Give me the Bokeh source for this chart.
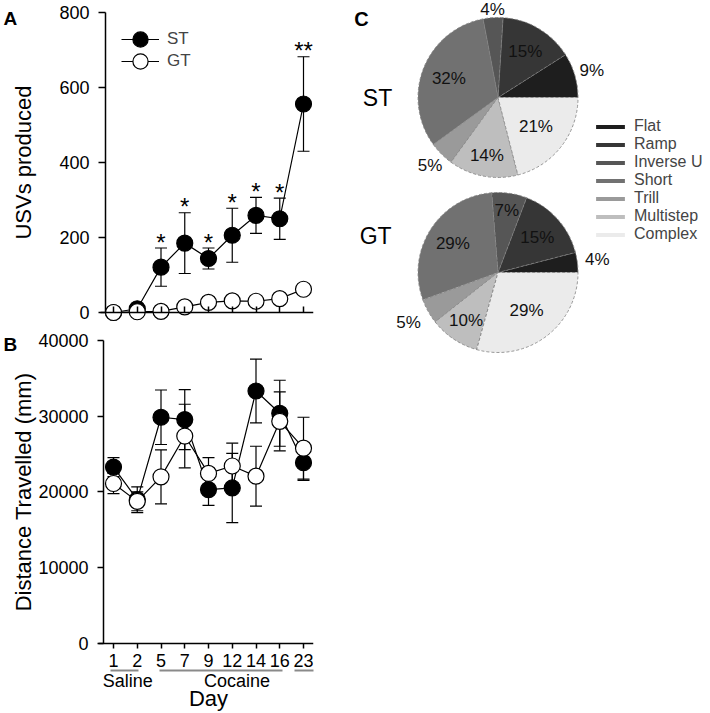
import math
from bokeh.plotting import figure
from bokeh.models import (Range1d, FixedTicker, LinearAxis, Legend, LegendItem,
                          ColumnDataSource)
from bokeh.layouts import row, column
from bokeh.embed import file_html
from bokeh.resources import INLINE
from bokeh.core.properties import value

# ---------------- data ----------------
days = ["1", "2", "5", "7", "9", "12", "14", "16", "23"]
usv_st = [0, 10, 121, 185, 144, 206, 259, 250, 556]
usv_st_err = [1, 5, 51, 81, 28, 72, 48, 55, 126]
usv_gt = [0, 2, 3, 15, 27, 31, 30, 37, 62]
usv_gt_err = [1, 1, 2, 4, 6, 5, 6, 6, 8]
usv_sig = ["", "", "*", "*", "*", "*", "*", "*", "**"]
usv_ticks = [0, 200, 400, 600, 800]

dist_st = [23290, 18980, 29870, 29560, 20320, 20530, 33340, 30400, 23870]
dist_st_err = [1250, 1700, 3600, 3960, 2090, 4570, 4220, 4360, 2350]
dist_gt = [21120, 18760, 22000, 27390, 22450, 23430, 22090, 29330, 25790]
dist_gt_err = [1330, 1240, 3560, 4200, 2080, 3020, 3950, 3890, 4080]
dist_ticks = [0, 10000, 20000, 30000, 40000]

groups = ["Saline", "Cocaine"]

call_types = ["Flat", "Ramp", "Inverse U", "Short", "Trill", "Multistep", "Complex"]
st_pct = [9, 15, 4, 32, 5, 14, 21]
gt_pct = [4, 15, 7, 29, 5, 10, 29]

# ---------------- styles / layout constants ----------------
FONT = "Liberation Sans"
call_colors = ["#1e1e1e", "#363636", "#565656", "#717171", "#9a9a9a", "#bebebe", "#ebebeb"]
st_label_r = [1.22, 0.67, 1.10, 0.66, 1.2, 0.74, 0.6]
gt_label_r = [1.25, 0.66, 0.78, 0.67, 1.28, 0.72, 0.59]

X_LEFT, X_RIGHT = -4.758, 8.421       # shared day-axis range of panels A and B
YAX_A, YAX_B = -0.337, -0.421         # where the y axes sit on the day scale
LABEL_X = -3.79                       # y-axis titles
LETTER_X = -4.34                      # panel letters
underline_bounds = [(-0.13, 1.05), (1.94, 7.12), (7.62, 8.42)]
group_label_pos = [0.6, 5.2]
day_label_pos = (len(days) - 1) / 2

xs = list(range(len(days)))


def style_fig(p):
    p.outline_line_color = None
    p.xgrid.visible = False
    p.ygrid.visible = False
    p.background_fill_color = "white"
    p.border_fill_color = "white"


def style_axis(ax):
    ax.axis_line_color = "black"
    ax.axis_line_width = 1.5
    ax.major_tick_line_color = "black"
    ax.major_tick_line_width = 1.5
    ax.minor_tick_line_color = None
    ax.major_label_text_font = FONT
    ax.major_label_text_font_size = "18px"
    ax.major_label_text_color = "black"


def label_axis(ticks, labels, size, standoff):
    return LinearAxis(ticker=FixedTicker(ticks=ticks),
                      major_label_overrides={t: l for t, l in zip(ticks, labels)},
                      axis_line_color=None, major_tick_line_color=None,
                      minor_tick_line_color=None, major_tick_out=0, major_tick_in=0,
                      major_label_standoff=standoff, major_label_text_font=FONT,
                      major_label_text_font_size=size, major_label_text_color="black")


def add_series(p, y, err, fill):
    lo = [a - e for a, e in zip(y, err)]
    hi = [a + e for a, e in zip(y, err)]
    p.segment(x0=xs, y0=lo, x1=xs, y1=hi, line_color="black", line_width=1.2)
    p.scatter(xs, hi, marker="dash", size=12, line_color="black", line_width=1.2)
    p.scatter(xs, lo, marker="dash", size=12, line_color="black", line_width=1.2)
    ln = p.line(xs, y, line_color="black", line_width=1.2)
    sc = p.scatter(xs, y, size=16, fill_color=fill, line_color="black", line_width=1.2)
    return ln, sc


def side_texts(p, letter, letter_y, title, title_y):
    p.text(x=[LETTER_X], y=[letter_y], text=[letter], text_align="center",
           text_baseline="middle", text_font=value(FONT), text_font_size="19px",
           text_font_style="bold", text_color="black")
    p.text(x=[LABEL_X], y=[title_y], text=[title], angle=math.pi / 2, text_align="center",
           text_baseline="middle", text_font=value(FONT), text_font_size="22px",
           text_color="black")


# ---------------- Panel A ----------------
pA = figure(width=338, height=323, output_backend="svg", toolbar_location=None,
            x_range=Range1d(X_LEFT, X_RIGHT), y_range=Range1d(-29.33, 832),
            min_border_left=0, min_border_right=25, min_border_top=0,
            min_border_bottom=0)
style_fig(pA)
style_axis(pA.yaxis[0])
pA.yaxis.ticker = FixedTicker(ticks=usv_ticks)
pA.yaxis.bounds = (usv_ticks[0], usv_ticks[-1])
pA.yaxis.fixed_location = YAX_A
pA.yaxis.major_tick_out = 7
pA.yaxis.major_tick_in = 0
pA.yaxis.major_label_standoff = 9

style_axis(pA.xaxis[0])
pA.xaxis.ticker = FixedTicker(ticks=xs)
pA.xaxis.bounds = (YAX_A - 0.21, X_RIGHT)
pA.xaxis.major_tick_in = 6
pA.xaxis.major_tick_out = 0
pA.xaxis.major_label_text_font_size = "0px"
pA.xaxis.major_label_standoff = 0
pA.xaxis.fixed_location = 0

side_texts(pA, "A", 784, "USVs produced", (usv_ticks[0] + usv_ticks[-1]) / 2)

st_ln, st_sc = add_series(pA, usv_st, usv_st_err, "black")
gt_ln, gt_sc = add_series(pA, usv_gt, usv_gt_err, "white")

star_y = [a + e for a, e in zip(usv_st, usv_st_err)]
pA.text(x=xs, y=star_y, text=usv_sig, text_align="center", text_baseline="alphabetic",
        text_font=value(FONT), text_font_size="24px", text_color="black", y_offset=-6)

for lab, rends, ly in [("ST", [st_ln, st_sc], 264), ("GT", [gt_ln, gt_sc], 242)]:
    leg = Legend(items=[LegendItem(label=lab, renderers=rends)], location=(121, ly),
                 glyph_width=38, glyph_height=40, label_standoff=8, padding=0, margin=0,
                 border_line_color=None, background_fill_alpha=0,
                 label_text_font=FONT, label_text_font_size="17px")
    pA.add_layout(leg)

# ---------------- Panel B ----------------
pB = figure(width=338, height=390, output_backend="svg", toolbar_location=None,
            x_range=Range1d(X_LEFT, X_RIGHT), y_range=Range1d(-3588, 42259),
            min_border_left=0, min_border_right=25, min_border_top=0,
            min_border_bottom=0)
style_fig(pB)
style_axis(pB.yaxis[0])
pB.yaxis.ticker = FixedTicker(ticks=dist_ticks)
pB.yaxis.bounds = (dist_ticks[0], dist_ticks[-1])
pB.yaxis.fixed_location = YAX_B
pB.yaxis.major_tick_out = 6
pB.yaxis.major_tick_in = 0
pB.yaxis.major_label_standoff = 9

style_axis(pB.xaxis[0])
pB.xaxis.ticker = FixedTicker(ticks=xs)
pB.xaxis.bounds = (YAX_B - 0.21, X_RIGHT)
pB.xaxis.major_label_overrides = {i: d for i, d in enumerate(days)}
pB.xaxis.major_tick_out = 5
pB.xaxis.major_tick_in = 0
pB.xaxis.major_label_standoff = 6
pB.xaxis.fixed_location = 0

for b in underline_bounds:
    ax = LinearAxis(ticker=FixedTicker(ticks=[]), bounds=b, axis_line_color="#8a8a8a",
                    axis_line_width=2, major_tick_out=0, major_tick_in=0,
                    major_label_standoff=0, minor_tick_line_color=None,
                    major_tick_line_color=None, major_label_text_font_size="0px")
    pB.add_layout(ax, "below")

pB.add_layout(label_axis(group_label_pos, groups, "18px", 0), "below")
pB.add_layout(label_axis([day_label_pos], ["Day"], "22px", -8), "below")

side_texts(pB, "B", 39470, "Distance Travelled (mm)", (dist_ticks[0] + dist_ticks[-1]) / 2)

add_series(pB, dist_st, dist_st_err, "black")
add_series(pB, dist_gt, dist_gt_err, "white")

# ---------------- Panel C (pies) ----------------
pC = figure(width=372, height=360, output_backend="svg", toolbar_location=None,
            x_range=Range1d(-1.994, 2.656), y_range=Range1d(-3.2875, 1.2125),
            x_axis_type=None, y_axis_type=None, min_border=0)
style_fig(pC)

pie_centers = [(0.0, 0.0), (0.0, -2.1875)]
name_pos = [(-1.506, 0.0), (-1.53, -1.725)]
legend_src = None
for (cx, cy), pct, lr, nm, npos in zip(pie_centers, [st_pct, gt_pct],
                                       [st_label_r, gt_label_r], ["ST", "GT"], name_pos):
    total = float(sum(pct))
    starts, ends, lx, ly = [], [], [], []
    cum = 0.0
    for v, r in zip(pct, lr):
        a0 = 2 * math.pi * cum / total
        cum += v
        a1 = 2 * math.pi * cum / total
        starts.append(a0)
        ends.append(a1)
        mid = (a0 + a1) / 2
        lx.append(cx + r * math.cos(mid))
        ly.append(cy + r * math.sin(mid))
    src = ColumnDataSource(dict(start=starts, end=ends, color=call_colors,
                                label=call_types))
    if legend_src is None:
        legend_src = src
    pC.wedge(x=cx, y=cy, radius=1.0, start_angle="start", end_angle="end",
             fill_color="color", line_color="#808080", line_width=0.8,
             line_dash="3 2", source=src)
    pC.text(x=lx, y=ly, text=[f"{v}%" for v in pct], text_align="center",
            text_baseline="middle", text_font=value(FONT), text_font_size="17px",
            text_color="#111111")
    pC.text(x=[npos[0]], y=[npos[1]], text=[nm], text_align="center",
            text_baseline="middle", text_font=value(FONT), text_font_size="23px",
            text_color="black")

pC.text(x=[-1.706], y=[0.9875], text=["C"], text_align="center", text_baseline="middle",
        text_font=value(FONT), text_font_size="20px", text_font_style="bold",
        text_color="black")

# legend swatches: a zero-radius copy of the ST wedges (solid, no outline)
proxy = pC.wedge(x=0, y=0, radius=0, start_angle="start", end_angle="end",
                 fill_color="color", line_color=None, source=legend_src)
legC = Legend(items=[LegendItem(label=ct, renderers=[proxy], index=i)
                     for i, ct in enumerate(call_types)],
              location=(254, 117), glyph_width=36, glyph_height=5, label_height=16,
              spacing=0, padding=0, margin=0, label_standoff=6,
              border_line_color=None, background_fill_alpha=0,
              label_text_font=FONT, label_text_font_size="16px")
pC.add_layout(legC)

layout = row(column(pA, pB), pC)
open("out.html", "w").write(file_html(layout, INLINE))
